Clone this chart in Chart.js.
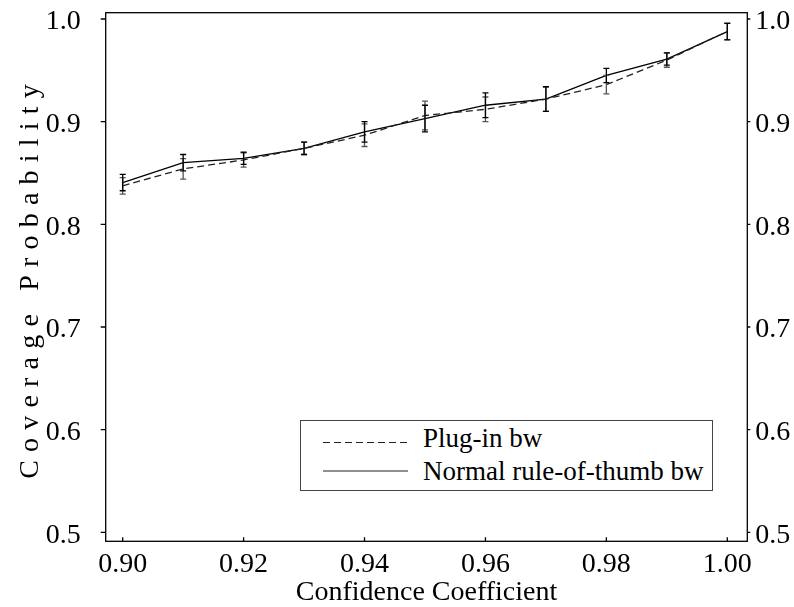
<!DOCTYPE html>
<html lang="en">

<script src="https://cdn.jsdelivr.net/npm/chart.js"></script>

<head>
  <meta charset="UTF-8">
  <title>Coverage Probability</title>
</head>

<style>
  body {
    margin: 0;
    background: #ffffff;
  }

  #wrap {
    position: relative;
    width: 794px;
    height: 607px;
  }

  #overlay {
    position: absolute;
    left: 0;
    top: 0;
    pointer-events: none;
    font-family: "Liberation Serif", serif;
  }
</style>

<body>
  <div id="wrap">
    <canvas id="chart" width="794" height="607"></canvas>

    <!-- y title + legend sit on top of the canvas -->
    <svg id="overlay" width="794" height="607">
      <text transform="translate(38,277.5) rotate(-90)" text-anchor="middle" font-size="28" letter-spacing="8.2"
        fill="#000">Coverage Probability</text>

      <rect x="300.5" y="420.5" width="412" height="70" fill="#fff" stroke="#444" stroke-width="1"></rect>
      <line x1="323" y1="442.5" x2="408" y2="442.5" stroke="#222" stroke-width="1.2" stroke-dasharray="7 4"></line>
      <text x="423" y="447" font-size="27" fill="#000">Plug-in bw</text>
      <line x1="323" y1="471" x2="408" y2="471" stroke="#222" stroke-width="1.2"></line>
      <text x="423" y="480" font-size="27" fill="#000">Normal rule-of-thumb bw</text>
    </svg>
  </div>
</body>

<script>

  // confidence coefficients on the x axis
  const coefficients = [0.90, 0.91, 0.92, 0.93, 0.94, 0.95, 0.96, 0.97, 0.98, 0.99, 1.00]

  // coverage probability, plug-in bandwidth (dashed)
  const plugInCoverage = [0.8375, 0.854, 0.8627, 0.874, 0.8868, 0.906, 0.912, 0.922, 0.936, 0.960, 0.988]
  const plugInError = [0.008, 0.010, 0.007, 0.006, 0.011, 0.014, 0.012, 0.012, 0.009, 0.007, 0.008]

  // coverage probability, normal rule-of-thumb bandwidth (solid)
  const normalCoverage = [0.8407, 0.860, 0.8643, 0.874, 0.890, 0.903, 0.916, 0.922, 0.945, 0.961, 0.9877]
  const normalError = [0.008, 0.008, 0.006, 0.006, 0.010, 0.013, 0.012, 0.012, 0.007, 0.006, 0.008]

  const xTicks = [0.90, 0.92, 0.94, 0.96, 0.98, 1.00]
  const yTicks = [0.5, 0.6, 0.7, 0.8, 0.9, 1.0]

  Chart.defaults.font.family = '"Liberation Serif", serif';
  Chart.defaults.color = '#000000';

  // error bars for each dataset, using the chart's own scales
  const errorBars = {
    id: 'errorBars',
    afterDatasetsDraw(chart) {
      const ctx = chart.ctx
      const xs = chart.scales.x
      const ys = chart.scales.y
      chart.data.datasets.forEach(ds => {
        ctx.save()
        ctx.strokeStyle = ds.errColor
        ctx.lineWidth = 1.3
        ds.data.forEach((p, i) => {
          const px = xs.getPixelForValue(p.x)
          const top = ys.getPixelForValue(p.y + ds.errors[i])
          const bot = ys.getPixelForValue(p.y - ds.errors[i])
          ctx.beginPath()
          ctx.moveTo(px, top); ctx.lineTo(px, bot)
          ctx.moveTo(px - 3, top); ctx.lineTo(px + 3, top)
          ctx.moveTo(px - 3, bot); ctx.lineTo(px + 3, bot)
          ctx.stroke()
        })
        ctx.restore()
      })
    }
  }

  // box around the plot and the little tick marks
  const frame = {
    id: 'frame',
    afterDraw(chart) {
      const ctx = chart.ctx
      const a = chart.chartArea
      ctx.save()
      ctx.strokeStyle = '#000'
      ctx.lineWidth = 1.3
      ctx.strokeRect(a.left, a.top, a.right - a.left, a.bottom - a.top)
      ctx.beginPath()
      yTicks.forEach(v => {
        const py = chart.scales.y.getPixelForValue(v)
        ctx.moveTo(a.left - 5, py); ctx.lineTo(a.left, py)
        ctx.moveTo(a.right, py); ctx.lineTo(a.right + 3, py)
      })
      xTicks.forEach(v => {
        const px = chart.scales.x.getPixelForValue(v)
        ctx.moveTo(px, a.bottom); ctx.lineTo(px, a.bottom - 4)
      })
      ctx.stroke()
      ctx.restore()
    }
  }

  const tickFont = { family: '"Liberation Serif", serif', size: 28 }

  // stop the axes from reserving room for overhanging tick labels
  function noOverhang(axis) {
    axis.paddingTop = 0
    axis.paddingBottom = 0
    axis.paddingLeft = 0
    axis.paddingRight = 0
  }

  new Chart(document.getElementById('chart'), {
    type: 'line',
    data: {
      datasets: [{
        label: 'Plug-in bw',
        data: coefficients.map((c, i) => ({ x: c, y: plugInCoverage[i] })),
        errors: plugInError,
        errColor: '#555555',
        borderColor: '#222222',
        borderWidth: 1.3,
        borderDash: [7, 4],
        pointRadius: 0,
        tension: 0
      }, {
        label: 'Normal rule-of-thumb bw',
        data: coefficients.map((c, i) => ({ x: c, y: normalCoverage[i] })),
        errors: normalError,
        errColor: '#000000',
        borderColor: '#000000',
        borderWidth: 1.3,
        pointRadius: 0,
        tension: 0
      }]
    },
    options: {
      responsive: false,
      animation: false,
      layout: { padding: { top: 12.7, left: 0, right: 0, bottom: 0 } },
      plugins: {
        legend: { display: false },
        tooltip: { enabled: false }
      },
      scales: {
        x: {
          type: 'linear',
          min: 0.89719,
          max: 1.00331,
          afterBuildTicks: axis => { axis.ticks = xTicks.map(v => ({ value: v })) },
          afterFit: axis => { axis.height = 65.7; noOverhang(axis) },
          ticks: {
            font: tickFont,
            padding: 7,
            maxRotation: 0,
            autoSkip: false,
            callback: v => v.toFixed(2)
          },
          grid: { drawOnChartArea: false, drawTicks: false },
          border: { display: false },
          title: {
            display: true,
            text: 'Confidence Coefficient',
            font: tickFont,
            padding: { top: 0, bottom: -2 }
          }
        },
        y: {
          position: 'left',
          min: 0.49123,
          max: 1.00614,
          afterBuildTicks: axis => { axis.ticks = yTicks.map(v => ({ value: v })) },
          afterFit: axis => { axis.width = 105.7; noOverhang(axis) },
          ticks: {
            font: tickFont,
            padding: 25,
            labelOffset: 3,
            callback: v => v.toFixed(1)
          },
          grid: { drawOnChartArea: false, drawTicks: false },
          border: { display: false }
        },
        y2: {
          position: 'right',
          min: 0.49123,
          max: 1.00614,
          afterBuildTicks: axis => { axis.ticks = yTicks.map(v => ({ value: v })) },
          afterFit: axis => { axis.width = 46.7; noOverhang(axis) },
          ticks: {
            font: tickFont,
            padding: 8,
            labelOffset: 3,
            callback: v => v.toFixed(1)
          },
          grid: { drawOnChartArea: false, drawTicks: false },
          border: { display: false }
        }
      }
    },
    plugins: [errorBars, frame]
  });

</script>

</html>
